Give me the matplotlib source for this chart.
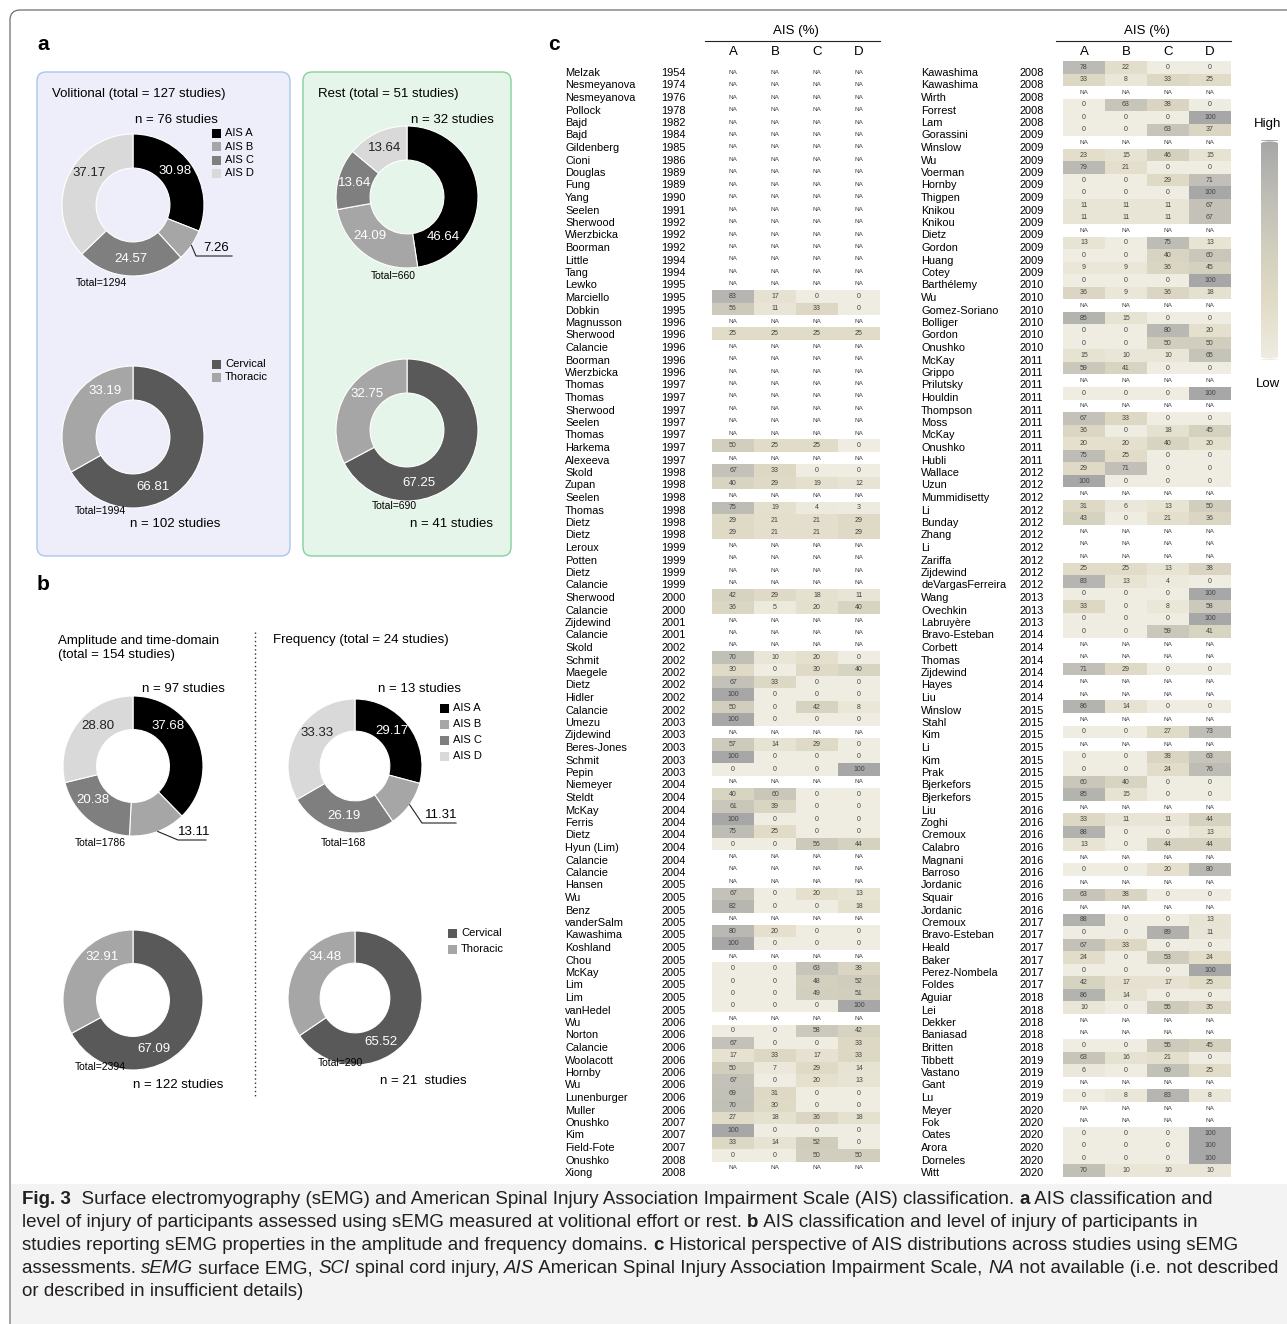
import numpy as np
import matplotlib.pyplot as plt
from matplotlib.colors import LinearSegmentedColormap
from matplotlib.patches import FancyBboxPatch, Rectangle

plt.rcParams['font.family'] = ['Liberation Sans', 'DejaVu Sans']

#%% ---------------- data
ais_labels = ['AIS A', 'AIS B', 'AIS C', 'AIS D']
level_labels = ['Cervical', 'Thoracic']

vol_ais = [30.98, 7.26, 24.57, 37.17]
vol_level = [66.81, 33.19]
rest_ais = [46.64, 24.09, 13.64, 13.64]
rest_level = [67.25, 32.75]
amp_ais = [37.68, 13.11, 20.38, 28.80]
amp_level = [67.09, 32.91]
freq_ais = [29.17, 11.31, 26.19, 33.33]
freq_level = [65.52, 34.48]

NA = None
left_names = ['Melzak', 'Nesmeyanova', 'Nesmeyanova', 'Pollock', 'Bajd', 'Bajd', 'Gildenberg', 'Cioni',
              'Douglas', 'Fung', 'Yang', 'Seelen', 'Sherwood', 'Wierzbicka', 'Boorman', 'Little', 'Tang',
              'Lewko', 'Marciello', 'Dobkin', 'Magnusson', 'Sherwood', 'Calancie', 'Boorman', 'Wierzbicka',
              'Thomas', 'Thomas', 'Sherwood', 'Seelen', 'Thomas', 'Harkema', 'Alexeeva', 'Skold', 'Zupan',
              'Seelen', 'Thomas', 'Dietz', 'Dietz', 'Leroux', 'Potten', 'Dietz', 'Calancie', 'Sherwood',
              'Calancie', 'Zijdewind', 'Calancie', 'Skold', 'Schmit', 'Maegele', 'Dietz', 'Hidler',
              'Calancie', 'Umezu', 'Zijdewind', 'Beres-Jones', 'Schmit', 'Pepin', 'Niemeyer', 'Steldt',
              'McKay', 'Ferris', 'Dietz', 'Hyun (Lim)', 'Calancie', 'Calancie', 'Hansen', 'Wu', 'Benz',
              'vanderSalm', 'Kawashima', 'Koshland', 'Chou', 'McKay', 'Lim', 'Lim', 'vanHedel', 'Wu',
              'Norton', 'Calancie', 'Woolacott', 'Hornby', 'Wu', 'Lunenburger', 'Muller', 'Onushko', 'Kim',
              'Field-Fote', 'Onushko', 'Xiong']
left_years = [1954, 1974, 1976, 1978, 1982, 1984, 1985, 1986, 1989, 1989, 1990, 1991, 1992, 1992, 1992,
              1994, 1994, 1995, 1995, 1995, 1996, 1996, 1996, 1996, 1996, 1997, 1997, 1997, 1997, 1997,
              1997, 1997, 1998, 1998, 1998, 1998, 1998, 1998, 1999, 1999, 1999, 1999, 2000, 2000, 2001,
              2001, 2002, 2002, 2002, 2002, 2002, 2002, 2003, 2003, 2003, 2003, 2003, 2004, 2004, 2004,
              2004, 2004, 2004, 2004, 2004, 2005, 2005, 2005, 2005, 2005, 2005, 2005, 2005, 2005, 2005,
              2005, 2006, 2006, 2006, 2006, 2006, 2006, 2006, 2006, 2007, 2007, 2007, 2008, 2008]
left_vals = [NA] * 18 + [
    [83, 17, 0, 0], [56, 11, 33, 0], NA, [25, 25, 25, 25], NA, NA, NA, NA, NA, NA, NA, NA,
    [50, 25, 25, 0], NA, [67, 33, 0, 0], [40, 29, 19, 12], NA, [75, 19, 4, 3], [29, 21, 21, 29],
    [29, 21, 21, 29], NA, NA, NA, NA, [42, 29, 18, 11], [36, 5, 20, 40], NA, NA, NA,
    [70, 10, 20, 0], [30, 0, 30, 40], [67, 33, 0, 0], [100, 0, 0, 0], [50, 0, 42, 8],
    [100, 0, 0, 0], NA, [57, 14, 29, 0], [100, 0, 0, 0], [0, 0, 0, 100], NA, [40, 60, 0, 0],
    [61, 39, 0, 0], [100, 0, 0, 0], [75, 25, 0, 0], [0, 0, 56, 44], NA, NA, NA, [67, 0, 20, 13],
    [82, 0, 0, 18], NA, [80, 20, 0, 0], [100, 0, 0, 0], NA, [0, 0, 63, 38], [0, 0, 48, 52],
    [0, 0, 49, 51], [0, 0, 0, 100], NA, [0, 0, 58, 42], [67, 0, 0, 33], [17, 33, 17, 33],
    [50, 7, 29, 14], [67, 0, 20, 13], [69, 31, 0, 0], [70, 30, 0, 0], [27, 18, 36, 18],
    [100, 0, 0, 0], [33, 14, 52, 0], [0, 0, 50, 50], NA]

right_names = ['Kawashima', 'Kawashima', 'Wirth', 'Forrest', 'Lam', 'Gorassini', 'Winslow', 'Wu',
               'Voerman', 'Hornby', 'Thigpen', 'Knikou', 'Knikou', 'Dietz', 'Gordon', 'Huang', 'Cotey',
               'Barthélemy', 'Wu', 'Gomez-Soriano', 'Bolliger', 'Gordon', 'Onushko', 'McKay', 'Grippo',
               'Prilutsky', 'Houldin', 'Thompson', 'Moss', 'McKay', 'Onushko', 'Hubli', 'Wallace', 'Uzun',
               'Mummidisetty', 'Li', 'Bunday', 'Zhang', 'Li', 'Zariffa', 'Zijdewind', 'deVargasFerreira',
               'Wang', 'Ovechkin', 'Labruyère', 'Bravo-Esteban', 'Corbett', 'Thomas', 'Zijdewind', 'Hayes',
               'Liu', 'Winslow', 'Stahl', 'Kim', 'Li', 'Kim', 'Prak', 'Bjerkefors', 'Bjerkefors', 'Liu',
               'Zoghi', 'Cremoux', 'Calabro', 'Magnani', 'Barroso', 'Jordanic', 'Squair', 'Jordanic',
               'Cremoux', 'Bravo-Esteban', 'Heald', 'Baker', 'Perez-Nombela', 'Foldes', 'Aguiar', 'Lei',
               'Dekker', 'Baniasad', 'Britten', 'Tibbett', 'Vastano', 'Gant', 'Lu', 'Meyer', 'Fok',
               'Oates', 'Arora', 'Dorneles', 'Witt']
right_years = [2008] * 5 + [2009] * 12 + [2010] * 6 + [2011] * 9 + [2012] * 10 + [2013] * 3 + \
              [2014] * 6 + [2015] * 8 + [2016] * 9 + [2017] * 6 + [2018] * 5 + [2019] * 4 + [2020] * 6
right_vals = [
    [78, 22, 0, 0], [33, 8, 33, 25], NA, [0, 63, 38, 0], [0, 0, 0, 100], [0, 0, 63, 37], NA,
    [23, 15, 46, 15], [79, 21, 0, 0], [0, 0, 29, 71], [0, 0, 0, 100], [11, 11, 11, 67],
    [11, 11, 11, 67], NA, [13, 0, 75, 13], [0, 0, 40, 60], [9, 9, 36, 45], [0, 0, 0, 100],
    [36, 9, 36, 18], NA, [85, 15, 0, 0], [0, 0, 80, 20], [0, 0, 50, 50], [15, 10, 10, 65],
    [59, 41, 0, 0], NA, [0, 0, 0, 100], NA, [67, 33, 0, 0], [36, 0, 18, 45], [20, 20, 40, 20],
    [75, 25, 0, 0], [29, 71, 0, 0], [100, 0, 0, 0], NA, [31, 6, 13, 50], [43, 0, 21, 36], NA, NA,
    NA, [25, 25, 13, 38], [83, 13, 4, 0], [0, 0, 0, 100], [33, 0, 8, 58], [0, 0, 0, 100],
    [0, 0, 59, 41], NA, NA, [71, 29, 0, 0], NA, NA, [86, 14, 0, 0], NA, [0, 0, 27, 73], NA,
    [0, 0, 38, 63], [0, 0, 24, 76], [60, 40, 0, 0], [85, 15, 0, 0], NA, [33, 11, 11, 44],
    [88, 0, 0, 13], [13, 0, 44, 44], NA, [0, 0, 20, 80], NA, [63, 38, 0, 0], NA, [88, 0, 0, 13],
    [0, 0, 89, 11], [67, 33, 0, 0], [24, 0, 53, 24], [0, 0, 0, 100], [42, 17, 17, 25],
    [86, 14, 0, 0], [10, 0, 55, 35], NA, NA, [0, 0, 55, 45], [63, 16, 21, 0], [6, 0, 69, 25], NA,
    [0, 8, 83, 8], NA, NA, [0, 0, 0, 100], [0, 0, 0, 100], [0, 0, 0, 100], [70, 10, 10, 10]]

ais_cols = ['A', 'B', 'C', 'D']

#%% ---------------- figure set up, pixel coordinates
W, H = 1287, 1324
fig = plt.figure(figsize=(W / 100, H / 100), dpi=100)


def add_ax(x0, y0, x1, y1, z=1):
    # axes from a pixel box, origin top left
    a = fig.add_axes([x0 / W, 1 - y1 / H, (x1 - x0) / W, (y1 - y0) / H])
    a.set_zorder(z)
    return a


bg = add_ax(0, 0, W, H, z=0)     # filled boxes, under everything
fg = add_ax(0, 0, W, H, z=10)    # text and lines, over everything
for a in (bg, fg):
    a.set_xlim(0, W)
    a.set_ylim(H, 0)
    a.axis('off')

ais_colors = ['#000000', '#A6A6A6', '#7F7F7F', '#D9D9D9']
ais_txt = ['white', 'white', 'white', '#222222']
lvl_colors = ['#595959', '#A6A6A6']
lvl_txt = ['white', 'white']
RING = 0.48   # ring thickness as a fraction of the outer radius

# outer frame and caption background
bg.add_patch(FancyBboxPatch((10, 10), W + 40, H + 40, boxstyle='round,pad=0,rounding_size=10',
                            fc='none', ec='#6d6d6d', lw=0.9))
bg.add_patch(Rectangle((10.5, 1184), W, H, fc='#F3F3F3', ec='none', zorder=0))

# panel a boxes
bg.add_patch(FancyBboxPatch((37, 72), 253, 484, boxstyle='round,pad=0,rounding_size=9',
                            fc='#EEEEFA', ec='#A9C6EC', lw=1.0))
bg.add_patch(FancyBboxPatch((303, 72), 208, 484, boxstyle='round,pad=0,rounding_size=9',
                            fc='#E6F5EA', ec='#86D09C', lw=1.0))

for lab, x, y in [('a', 37, 45), ('b', 37, 585), ('c', 548, 45)]:
    fg.text(x, y, lab, fontsize=15, fontweight='bold', va='center')


def donut(cx, cy, r, vals, colors, txt_cols, nudge=None, leader=None):
    ax = add_ax(cx - r, cy - r, cx + r, cy + r)
    ax.pie(vals, colors=colors, startangle=90, counterclock=False, radius=1,
           wedgeprops=dict(width=RING, edgecolor='white', linewidth=0.8))
    ax.set_xlim(-1, 1)
    ax.set_ylim(-1, 1)
    ax.set_aspect('equal')
    ax.axis('off')
    nudge = nudge or {}
    tot = sum(vals)
    start = 0.0
    for i, v in enumerate(vals):
        mid = np.deg2rad(90 - 360 * (start + v / 2) / tot + nudge.get(i, 0))
        start += v
        if leader is not None and leader[0] == i:
            # value outside the ring with an elbow leader
            _, ex, ey, x_end = leader
            sx, sy = cx + r * np.cos(mid), cy - r * np.sin(mid)
            fg.plot([sx, ex, x_end], [sy, ey, ey], color='#222222', lw=0.8)
            fg.text((ex + x_end) / 2 + 2, ey - 2, f'{v:.2f}', fontsize=9.5, ha='center', va='bottom')
        else:
            rm = 1 - RING / 2
            fg.text(cx + rm * r * np.cos(mid), cy - rm * r * np.sin(mid), f'{v:.2f}', fontsize=9.5,
                    ha='center', va='center', color=txt_cols[i])
    return ax


def legend(x, y, labels, colors, step):
    for k, (lab, c) in enumerate(zip(labels, colors)):
        fg.add_patch(Rectangle((x, y + k * step - 4.5), 9, 9, fc=c, ec='none'))
        fg.text(x + 13, y + k * step, lab, fontsize=8, va='center')


# panel a
fg.text(52, 94, 'Volitional (total = 127 studies)', fontsize=9.5, va='center')
fg.text(135, 120, 'n = 76 studies', fontsize=9.5, va='center')
donut(133, 205, 71, vol_ais, ais_colors, ais_txt, nudge={0: 5, 3: -13}, leader=(1, 196, 256, 232))
fg.text(101, 283, 'Total=1294', fontsize=7.5, ha='center', va='center')
legend(212, 133, ais_labels, ais_colors, 13.5)
donut(133, 437, 71, vol_level, lvl_colors, lvl_txt, nudge={0: -38, 1: -28})
fg.text(100, 511, 'Total=1994', fontsize=7.5, ha='center', va='center')
fg.text(175, 524, 'n = 102 studies', fontsize=9.5, ha='center', va='center')
legend(212, 364, level_labels, lvl_colors, 13.5)

fg.text(318, 94, 'Rest (total = 51 studies)', fontsize=9.5, va='center')
fg.text(452, 120, 'n = 32 studies', fontsize=9.5, ha='center', va='center')
donut(407, 197, 71, rest_ais, ais_colors, ais_txt, nudge={0: -52, 1: -8})
fg.text(393, 276, 'Total=660', fontsize=7.5, ha='center', va='center')
donut(407, 430, 71, rest_level, lvl_colors, lvl_txt, nudge={0: -46, 1: -11})
fg.text(394, 506, 'Total=690', fontsize=7.5, ha='center', va='center')
fg.text(452, 524, 'n = 41 studies', fontsize=9.5, ha='center', va='center')

# panel b
fg.text(58, 648, 'Amplitude and time-domain\n(total = 154 studies)', fontsize=9.5, va='center',
        linespacing=1.25)
fg.text(273, 640, 'Frequency (total = 24 studies)', fontsize=9.5, va='center')
fg.plot([255, 255], [632, 1098], color='#333333', lw=1.0, ls=(0, (1, 2)))
fg.text(183, 689, 'n = 97 studies', fontsize=9.5, ha='center', va='center')
donut(133, 766, 70, amp_ais, ais_colors, ais_txt, nudge={0: 26, 2: -10, 3: -11},
      leader=(1, 178, 840, 206))
fg.text(100, 843, 'Total=1786', fontsize=7.5, ha='center', va='center')
donut(133, 1000, 70, amp_level, lvl_colors, lvl_txt, nudge={0: -36, 1: -24})
fg.text(100, 1067, 'Total=2394', fontsize=7.5, ha='center', va='center')
fg.text(178, 1085, 'n = 122 studies', fontsize=9.5, ha='center', va='center')

fg.text(420, 689, 'n = 13 studies', fontsize=9.5, ha='center', va='center')
donut(355, 766, 67, freq_ais, ais_colors, ais_txt, nudge={0: 6, 3: -11}, leader=(1, 422, 823, 456))
fg.text(343, 843, 'Total=168', fontsize=7.5, ha='center', va='center')
legend(440, 708, ais_labels, ais_colors, 16)
donut(355, 998, 67, freq_level, lvl_colors, lvl_txt, nudge={0: -32, 1: -26})
fg.text(340, 1063, 'Total=290', fontsize=7.5, ha='center', va='center')
fg.text(423, 1081, 'n = 21  studies', fontsize=9.5, ha='center', va='center')
legend(448, 933, level_labels, lvl_colors, 16)

#%% ---------------- panel c heatmaps
cmap = LinearSegmentedColormap.from_list('ais', ['#EFECE2', '#E2DDC8', '#D2CFBE', '#BEBDB6', '#A7A7A7'])


def heat(box, vals, names, years, name_x, year_x, label_y0):
    x0, y0, x1, y1 = box
    arr = np.array([[np.nan] * 4 if v is None else v for v in vals], dtype=float)
    ax = add_ax(x0, y0, x1, y1)
    ax.imshow(np.ma.masked_invalid(arr), cmap=cmap, vmin=0, vmax=100, aspect='auto',
              interpolation='nearest')
    ax.axis('off')
    for i in range(arr.shape[0]):
        for j in range(4):
            if np.isnan(arr[i, j]):
                ax.text(j, i, 'NA', fontsize=4.6, ha='center', va='center', color='#444444')
            else:
                ax.text(j, i, f'{arr[i, j]:.0f}', fontsize=5, ha='center', va='center', color='#444444')
    for i, (n, yr) in enumerate(zip(names, years)):
        ly = label_y0 + 12.5 * i
        fg.text(name_x, ly, n, fontsize=7.9, va='center')
        fg.text(year_x, ly, str(yr), fontsize=7.9, va='center')
    # header
    cw = (x1 - x0) / 4
    fg.text((x0 + x1) / 2, 31, 'AIS (%)', fontsize=9.5, ha='center', va='center')
    fg.plot([x0 - 7, x1], [41, 41], color='#222222', lw=0.8)
    for j, c in enumerate(ais_cols):
        fg.text(x0 + cw * (j + 0.5), 52, c, fontsize=9.5, ha='center', va='center')


heat((712, 66, 880, 1174), left_vals, left_names, left_years, 565, 661, 73)
heat((1063, 61, 1231, 1177), right_vals, right_names, right_years, 921, 1020, 73)

# colour scale
cax = add_ax(1261, 140, 1278, 360)
grad = np.linspace(100, 0, 200).reshape(-1, 1)
im = cax.imshow(grad, cmap=cmap, vmin=0, vmax=100, aspect='auto')
cax.axis('off')
clip = FancyBboxPatch((-0.5, -0.5), 1, 200, boxstyle='round,pad=0,rounding_size=3',
                      transform=cax.transData, fc='none', ec='none')
cax.add_patch(clip)
im.set_clip_path(clip)
fg.text(1268, 124, 'High', fontsize=9.5, ha='center', va='center')
fg.text(1268, 384, 'Low', fontsize=9.5, ha='center', va='center')

#%% ---------------- caption
renderer = fig.canvas.get_renderer()


def seg_width(s, **kw):
    t1 = fg.text(0, 0, '|' + s + '|', **kw)
    t2 = fg.text(0, 0, '||', **kw)
    w = t1.get_window_extent(renderer).width - t2.get_window_extent(renderer).width
    t1.remove()
    t2.remove()
    return w


cap_size = 13.5
B = dict(fontweight='bold')
I = dict(fontstyle='italic')
R = dict()
caption = [
    [('Fig. 3', B), ('  Surface electromyography (sEMG) and American Spinal Injury Association Impairment Scale (AIS) classification. ', R),
     ('a', B), (' AIS classification and', R)],
    [('level of injury of participants assessed using sEMG measured at volitional effort or rest. ', R), ('b', B),
     (' AIS classification and level of injury of participants in', R)],
    [('studies reporting sEMG properties in the amplitude and frequency domains. ', R), ('c', B),
     (' Historical perspective of AIS distributions across studies using sEMG', R)],
    [('assessments. ', R), ('sEMG', I), (' surface EMG, ', R), ('SCI', I), (' spinal cord injury, ', R), ('AIS', I),
     (' American Spinal Injury Association Impairment Scale, ', R), ('NA', I), (' not available (i.e. not described', R)],
    [('or described in insufficient details)', R)],
]
for k, line in enumerate(caption):
    x = 22
    y = 1204 + 23 * k
    for s, kw in line:
        st = dict(fontsize=cap_size, color='#231F20', va='baseline', **kw)
        fg.text(x, y, s, **st)
        x += seg_width(s, **st)

fig.savefig('out.png', dpi=100)
